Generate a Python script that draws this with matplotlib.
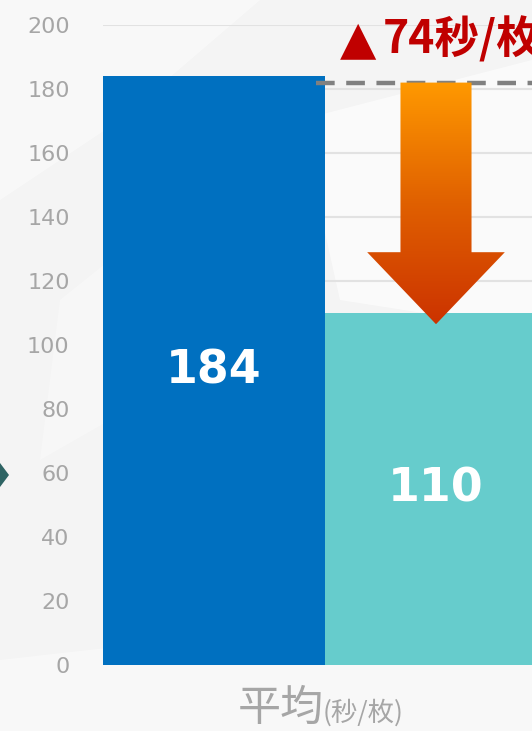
import numpy as np
import matplotlib
matplotlib.use("Agg")
import matplotlib.pyplot as plt
from matplotlib.patches import Polygon
from matplotlib.colors import LinearSegmentedColormap

# --- data ---
categories = ["平均"]
series_names = ["導入前", "導入後"]
values = [184, 110]
bar_colors = ["#0070C0", "#66CCCC"]
yticks = [0, 20, 40, 60, 80, 100, 120, 140, 160, 180, 200]
diff_mark = "▲"
diff_label = "74秒/枚"
unit_label = "(秒/枚)"
ref_level = 182
arrow_base = 129
arrow_tip = 106.5

W, H = 532, 731
fig = plt.figure(figsize=(W / 100, H / 100), dpi=100)
fig.patch.set_facecolor("#f4f4f4")

def fx(px):
    return px / W

def fy(py):
    return 1 - py / H

# faint light patches in the backdrop
bg = fig.add_axes([0, 0, 1, 1], zorder=-5)
bg.set_xlim(0, W)
bg.set_ylim(H, 0)
bg.axis("off")
for pts, a in [
    ([(0, 0), (260, 0), (120, 120), (0, 200)], 0.45),
    ([(300, 120), (532, 60), (532, 330), (340, 300)], 0.6),
    ([(60, 300), (110, 260), (110, 420), (40, 460)], 0.3),
    ([(0, 660), (532, 600), (532, 731), (0, 731)], 0.4),
]:
    bg.add_patch(Polygon(pts, closed=True, facecolor="white", edgecolor="none", alpha=a))
# small marker at left edge
bg.add_patch(Polygon([(0, 463), (9, 475), (0, 487)], closed=True,
                     facecolor="#2E6464", edgecolor="none"))

ax = fig.add_axes([fx(103), fy(665), fx(444), 640 / H])
ax.set_facecolor("none")
ax.set_xlim(0, 2)
ax.set_ylim(0, 200)
for s in ax.spines.values():
    s.set_visible(False)
ax.set_yticks(yticks)
ax.set_xticks([])
ax.tick_params(axis="y", length=0, pad=24, labelsize=16, labelcolor="#A6A6A6")
ax.yaxis.grid(True, color="#e2e2e2", linewidth=1.5)
ax.set_axisbelow(True)

xpos = np.arange(len(values)) + 0.5
ax.bar(xpos, values, width=1.0, color=bar_colors, zorder=2)
for x, v in zip(xpos, values):
    ax.text(x, v / 2, str(v), ha="center", va="center", color="white",
            fontsize=33, fontweight="bold", family="DejaVu Sans", zorder=4)

# dashed reference line at the first bar's level
ax.plot([0.96, 2.0], [ref_level, ref_level], color="#808080", linewidth=3.2,
        dashes=(4.2, 2.6), zorder=3, solid_capstyle="butt", dash_capstyle="butt")

# gradient arrow over the second bar
cx = xpos[1]
sw, hw = 0.16, 0.31
arrow_pts = [(cx - sw, ref_level), (cx + sw, ref_level), (cx + sw, arrow_base),
             (cx + hw, arrow_base), (cx, arrow_tip), (cx - hw, arrow_base),
             (cx - sw, arrow_base)]
poly = Polygon(arrow_pts, closed=True, facecolor="none", edgecolor="none", zorder=5)
ax.add_patch(poly)
cmap = LinearSegmentedColormap.from_list("arr", ["#CC3300", "#E06000", "#FF9900"])
grad = np.linspace(0, 1, 256).reshape(-1, 1)
im = ax.imshow(grad, extent=[cx - hw, cx + hw, arrow_tip, ref_level], origin="lower",
               cmap=cmap, aspect="auto", zorder=5, interpolation="bilinear")
im.set_clip_path(poly)
ax.set_xlim(0, 2)
ax.set_ylim(0, 200)

fam = ["Noto Sans CJK JP", "DejaVu Sans"]
fig.text(fx(358), fy(53), diff_mark, color="#C00000", fontsize=34,
         family="DejaVu Sans", ha="center", va="baseline")
fig.text(fx(383), fy(53), diff_label, color="#C00000", fontsize=32,
         fontweight="bold", family=fam, ha="left", va="baseline")

fig.text(fx(324), fy(721), categories[0], color="#A6A6A6", fontsize=31,
         family=fam, ha="right", va="baseline")
fig.text(fx(323), fy(721), unit_label, color="#A6A6A6", fontsize=19,
         family=fam, ha="left", va="baseline")

fig.savefig("out.png", dpi=100, facecolor=fig.get_facecolor())
